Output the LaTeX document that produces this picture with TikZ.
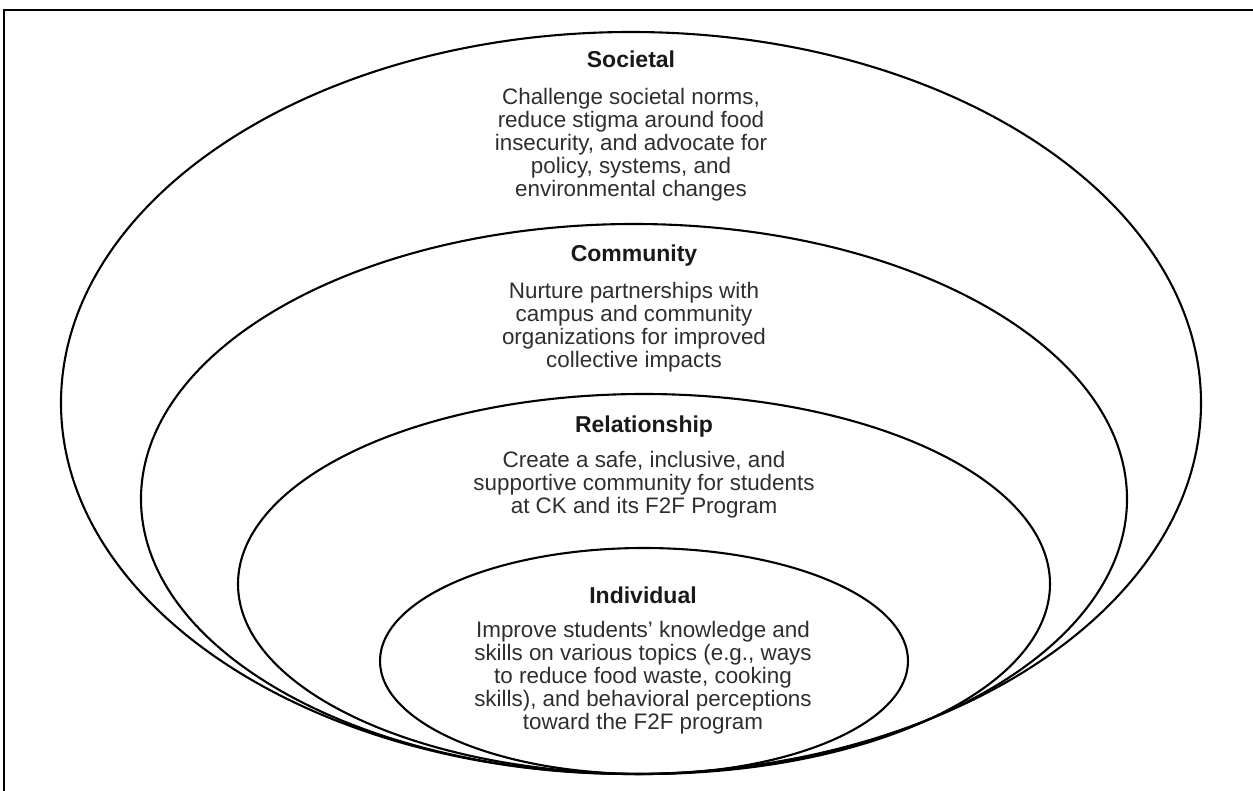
\documentclass[tikz,border=0pt]{standalone}
\usepackage{fontspec}
\setmainfont{Liberation Sans}
\begin{document}
\begin{tikzpicture}[x=1pt,y=-1pt,
  ring/.style={draw=black, line width=2.1pt},
  frame/.style={draw=black, line width=1.4pt},
  ttl/.style={font=\bfseries\fontsize{23}{23}\selectfont, text=black!90, inner sep=0pt, anchor=base},
  bodytext/.style={font=\fontsize{22.4}{23}\selectfont, text=black!82, align=center, inner sep=0pt, anchor=north}]
\useasboundingbox (0,0) rectangle (1253,791);
\coordinate (fbl) at (4,795);
\coordinate (ftl) at (4,10);
\coordinate (ftr) at (1257,10);
\draw[frame] (fbl) -- (ftl) -- (ftr);
\draw[ring] (631,403) ellipse [x radius=570pt, y radius=371pt];
\draw[ring] (634,499) ellipse [x radius=493pt, y radius=275pt];
\draw[ring] (644,584) ellipse [x radius=406pt, y radius=190pt];
\draw[ring] (644,661) ellipse [x radius=264pt, y radius=113pt];
\node[ttl] (societal) at (631,68) {Societal};
\node[bodytext] (societalbody) at (631,88) {Challenge societal norms,\\reduce stigma around food\\insecurity, and advocate for\\policy, systems, and\\environmental changes};
\node[ttl] (community) at (634,262) {Community};
\node[bodytext] (communitybody) at (634,282) {Nurture partnerships with\\campus and community\\organizations for improved\\collective impacts};
\node[ttl] (relationship) at (644,432) {Relationship};
\node[bodytext] (relationshipbody) at (644,451) {Create a safe, inclusive, and\\supportive community for students\\at CK and its F2F Program};
\node[ttl] (individual) at (643,603) {Individual};
\node[bodytext] (individualbody) at (643,621) {Improve students\char"0027{} knowledge and\\skills on various topics (e.g., ways\\to reduce food waste, cooking\\skills), and behavioral perceptions\\toward the F2F program};
\end{tikzpicture}
\end{document}
